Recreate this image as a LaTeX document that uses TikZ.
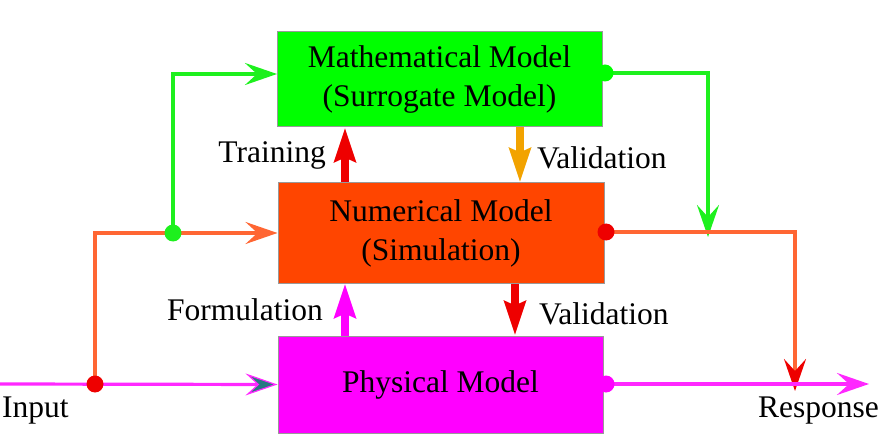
\documentclass[tikz,border=0pt]{standalone}
\usepackage{fontspec}
\setmainfont{Liberation Serif}
\usetikzlibrary{arrows.meta,calc}
\definecolor{boxgreen}{RGB}{0,255,0}
\definecolor{linegreen}{RGB}{30,240,30}
\definecolor{boxorange}{RGB}{255,69,0}
\definecolor{lineorange}{RGB}{255,102,51}
\definecolor{boxmag}{RGB}{255,0,255}
\definecolor{linemag}{RGB}{255,40,255}
\definecolor{valgold}{RGB}{242,163,0}
\definecolor{arrred}{RGB}{238,0,0}
\definecolor{tealhead}{RGB}{40,120,130}
\begin{document}
\begin{tikzpicture}[x=1pt,y=-1pt,
  modelbox/.style={draw=gray!80, line width=1pt, inner sep=0pt, align=center,
    font=\fontsize{31.5}{39}\selectfont},
  lbl/.style={inner sep=0pt, font=\fontsize{31.5}{36}\selectfont},
  thin head/.style={-{Stealth[length=32pt,width=22pt,inset=12pt]}},
  flowline/.style={line width=3.2pt},
  thickarrow/.style={line width=7.5pt, -{Stealth[length=34pt,width=21pt,inset=4pt]}},
  dotmark/.style={circle, inner sep=0pt, minimum size=17pt}
]
\useasboundingbox (0,0) rectangle (879,441);

% boxes
\node[modelbox, fill=boxgreen, minimum width=325pt, minimum height=95pt] (math) at (439.5,79.5)
  {Mathematical Model\\(Surrogate Model)};
\node[modelbox, fill=boxorange, minimum width=326pt, minimum height=100pt] (num) at (441,233)
  {Numerical Model\\(Simulation)};
\node[modelbox, fill=boxmag, minimum width=325pt, minimum height=97pt] (phys) at (440.5,384.5)
  {Physical Model};

% helper coordinates
\coordinate (inL) at (0,384);
\coordinate (dotA) at (95,384);
\coordinate (dotB) at (173,233);
\coordinate (mathIn) at (277,74);
\coordinate (mathOut) at (605,73);
\coordinate (greenEnd) at (708,237);
\coordinate (numOut) at (606,232);
\coordinate (redEnd) at (795,391);
\coordinate (physOut) at (606,384);
\coordinate (respEnd) at (869,384);
\coordinate (trainx) at (345,0);
\coordinate (valAx) at (520,0);
\coordinate (formx) at (345,0);
\coordinate (valBx) at (515,0);

% input line
\draw[flowline, linemag, -{Stealth[length=32pt,width=22pt,inset=12pt,line width=1.2pt,fill=tealhead]}] (inL) -- (phys.west);
% orange feed to numerical
\draw[flowline, lineorange, thin head] (dotA) |- (num.west);
% green feed to math
\draw[flowline, linegreen, thin head] (dotB) |- (mathIn);
% math output green
\draw[flowline, linegreen, thin head] (mathOut) -| (greenEnd);
% numerical output
\draw[flowline, lineorange, -{Stealth[length=32pt,width=22pt,inset=12pt,color=arrred]}] (numOut) -| (redEnd);
% physical output
\draw[flowline, linemag, thin head] (physOut) -- (respEnd);

% dots
\node[dotmark, fill=arrred] (dA) at (dotA) {};
\node[dotmark, fill=linegreen] (dB) at (dotB) {};
\node[dotmark, fill=boxgreen] (dC) at (mathOut) {};
\node[dotmark, fill=arrred] (dD) at (numOut) {};
\node[dotmark, fill=boxmag] (dE) at (physOut) {};

% vertical arrows
\draw[thickarrow, arrred] (num.north -| trainx) -- (math.south -| trainx);
\draw[thickarrow, valgold] (math.south -| valAx) -- (num.north -| valAx);
\draw[thickarrow, boxmag] (phys.north -| formx) -- (num.south -| formx);
\draw[thickarrow, arrred] (num.south -| valBx) -- (phys.north -| valBx);

% labels
\node[lbl, anchor=east] (ltrain) at (326,155) {Training};
\node[lbl, anchor=west] (lvalA) at (537,158) {Validation};
\node[lbl, anchor=east] (lform) at (323,310) {Formulation};
\node[lbl, anchor=west] (lvalB) at (539,314) {Validation};
\node[lbl, anchor=west] (lin) at (2,411) {Input};
\node[lbl, anchor=east] (lresp) at (879,411) {Response};
\end{tikzpicture}
\end{document}
